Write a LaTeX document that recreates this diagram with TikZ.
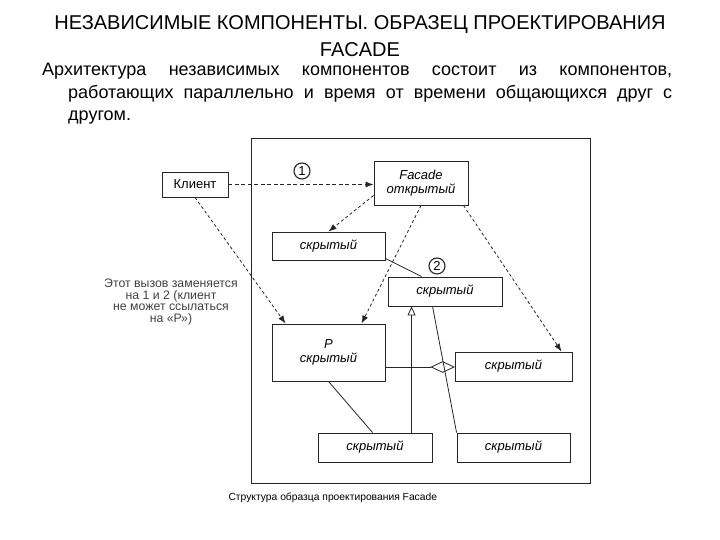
\documentclass[tikz,border=0pt]{standalone}
\usepackage{fontspec}
\setmainfont{Liberation Sans}
\usetikzlibrary{arrows.meta,shapes.geometric,calc}
\colorlet{ink}{black!85}
\tikzset{
    klass/.style={draw=ink,line width=0.9pt,fill=white,inner sep=2pt,font=\fontsize{13}{14}\selectfont\itshape},
    call/.style={draw=ink,line width=0.8pt,dash pattern=on 3pt off 2.5pt,-{Latex[length=8pt,width=6pt]}},
    link/.style={draw=ink,line width=0.8pt},
    num/.style={circle,draw=ink,line width=1.1pt,inner sep=0pt,minimum size=16pt,font=\fontsize{13}{13}\selectfont}
}
\begin{document}
\begin{tikzpicture}[x=1pt,y=-1pt]
    \useasboundingbox (0,0) rectangle (720,540);
    \node (title) [font=\fontsize{20}{27}\selectfont,align=center] at (360,36) {НЕЗАВИСИМЫЕ КОМПОНЕНТЫ. ОБРАЗЕЦ ПРОЕКТИРОВАНИЯ\\FACADE};
    \node (intro) [anchor=north west,inner sep=0pt,text width=630pt,align=justify,font=\fontsize{18}{22.5}\selectfont] at (42,63) {\noindent\hangindent=26pt\hangafter=1
        Архитектура независимых компонентов состоит из компонентов,\linebreak работающих параллельно и время от времени общающихся друг с\linebreak другом.\par};
    \draw [link,line width=1pt] (251,139) rectangle (590,483);
    \node (client) [klass,font=\fontsize{13}{14}\selectfont,minimum width=66pt,minimum height=25pt] at (195,184.5) {Клиент};
    \node (facade) [klass,align=center,minimum width=94pt,minimum height=44pt] at (421,183) {Facade\\открытый};
    \node (hid1) [klass,minimum width=113pt,minimum height=28pt] at (328.5,246) {скрытый};
    \node (hid2) [klass,minimum width=114pt,minimum height=29pt] at (445,291.5) {скрытый};
    \node (p) [klass,align=center,minimum width=113pt,minimum height=57pt] at (328.5,352.5) {P\\скрытый};
    \node (hid3) [klass,minimum width=117pt,minimum height=29pt] at (513.5,366.5) {скрытый};
    \node (hid4) [klass,minimum width=114pt,minimum height=29pt] at (375,447.5) {скрытый};
    \node (hid5) [klass,minimum width=113pt,minimum height=29pt] at (513.5,447.5) {скрытый};
    \node (dia) [diamond,draw=ink,line width=0.8pt,fill=white,aspect=2,inner sep=0pt,minimum width=23pt,minimum height=11pt,anchor=east] at (hid3.west |- 0,367) {};
    \node (one) [num] at (302,171) {1};
    \node (two) [num] at (437,266) {2};
    \node (note) [align=center,font=\fontsize{12.3}{11.5}\selectfont,text=black!75] at (171,302) {Этот вызов заменяется\\на 1 и 2 (клиент\\не может ссылаться\\на «Р»)};
    \node (caption) [anchor=base west,font=\fontsize{10.3}{12}\selectfont] at (225,500) {Структура образца проектирования Facade};
    \draw [call,dash pattern=on 4pt off 2.5pt] (client.east) -- (client.east -| facade.west);
    \draw [call] ($(facade.south west)+(0,-10)$) -- (hid1.north);
    \draw [call] (client.south) -- ($(p.north west)+(14,0)$);
    \draw [call] (facade.south) -- ($(p.north west)+(90,0)$);
    \draw [call] ($(facade.south east)+(-5,0)$) -- ($(hid3.north west)+(107,0)$);
    \draw [link] ($(hid1.south east)+(0,-2)$) -- ($(hid2.north west)+(34,0)$);
    \draw [link] (p.south) -- ($(hid4.north west)+(55,0)$);
    \draw [link] (p.east |- dia.west) -- (dia.west);
    \draw [link] ($(hid2.south west)+(45,0)$) -- (hid5.north west);
    \draw [link,-{Triangle[open,length=9pt,width=8pt]}] ($(hid4.north west)+(94,0)$) -- ($(hid2.south west)+(24,0)$);
\end{tikzpicture}
\end{document}
